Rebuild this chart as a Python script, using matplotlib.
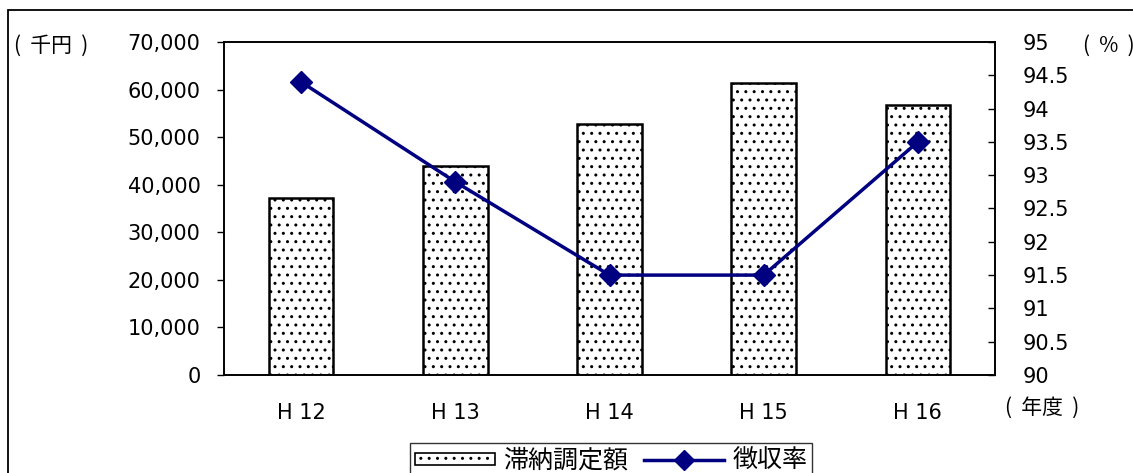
import matplotlib
matplotlib.use("Agg")
import matplotlib.pyplot as plt
from matplotlib.patches import Rectangle
from matplotlib.lines import Line2D
from matplotlib.ticker import FuncFormatter

plt.rcParams['font.family'] = ['DejaVu Sans', 'Noto Sans CJK JP']
plt.rcParams['hatch.linewidth'] = 1.0
plt.rcParams['hatch.color'] = '#505050'

# Fiscal years and values
years = ['H 12', 'H 13', 'H 14', 'H 15', 'H 16']
arrears = [37200, 43900, 52800, 61400, 56700]        # 滞納調定額 (千円)
collection_rate = [94.4, 92.9, 91.5, 91.5, 93.5]     # 徴収率 (%)

W, H = 1133, 473
fig = plt.figure(figsize=(W / 100, H / 100), dpi=100)

# plot area in pixel terms
left, right, top, bottom = 224, 995, 42, 375
ax = fig.add_axes([left / W, 1 - bottom / H, (right - left) / W, (bottom - top) / H])

FS = 15
x = range(len(years))
ax.bar(x, arrears, width=0.42, color='white', edgecolor='black',
       linewidth=1.8, hatch='..', zorder=2)
ax.set_xlim(-0.5, len(years) - 0.5)
ax.set_ylim(0, 70000)
ax.set_yticks(range(0, 70001, 10000))
ax.yaxis.set_major_formatter(FuncFormatter(lambda v, p: f'{int(v):,}'))
ax.set_xticks(list(x))
ax.set_xticklabels(years)
ax.tick_params(axis='x', length=0, pad=20, labelsize=FS)
ax.tick_params(axis='y', direction='out', length=5, width=1, pad=12, labelsize=FS)
for s in ax.spines.values():
    s.set_linewidth(1.2)
    s.set_color('black')

ax2 = ax.twinx()
ax2.plot(x, collection_rate, color='#000080', linewidth=2.5, marker='D',
         markersize=11, markerfacecolor='#000080', markeredgecolor='#000080', zorder=3)
ax2.set_ylim(90, 95)
ax2.set_yticks([90 + 0.5 * i for i in range(11)])
ax2.yaxis.set_major_formatter(FuncFormatter(lambda v, p: f'{v:g}'))
ax2.tick_params(axis='y', direction='in', length=5, width=1, pad=20, labelsize=FS)
for s in ax2.spines.values():
    s.set_linewidth(1.2)
    s.set_color('black')

# unit labels
cjk = ['Noto Sans CJK JP', 'DejaVu Sans']
fig.text(14 / W, 1 - 46 / H, '(  千円  )', fontsize=FS, va='center', ha='left', family=cjk)
fig.text(1083 / W, 1 - 46 / H, '(  %  )', fontsize=FS, va='center', ha='left', family=cjk)
fig.text(1005 / W, 1 - 408 / H, '(  年度  )', fontsize=FS, va='center', ha='left', family=cjk)

# legend
bar_handle = Rectangle((0, 0), 1, 1, facecolor='white', edgecolor='black',
                       linewidth=1.2, hatch='..')
line_handle = Line2D([], [], color='#000080', linewidth=2.5, marker='D',
                     markersize=10, markerfacecolor='#000080')
leg = fig.legend([bar_handle, line_handle], ['滞納調定額', '徴収率'],
                 loc='upper center', bbox_to_anchor=(611 / W, 1 - 443 / H), ncol=2,
                 frameon=True, fancybox=False,
                 prop={'family': cjk, 'size': 18},
                 handlelength=3.2, handleheight=0.4, columnspacing=0.6,
                 handletextpad=0.35, borderpad=0.2, borderaxespad=0)
leg.get_frame().set_edgecolor('black')
leg.get_frame().set_linewidth(1.0)

# outer frame of the figure
fig.add_artist(Rectangle((8 / W, -0.1), 1.2, 1 - 10 / H + 0.1, transform=fig.transFigure,
                         fill=False, edgecolor='black', linewidth=1.3))

fig.savefig('out.png', dpi=100)
